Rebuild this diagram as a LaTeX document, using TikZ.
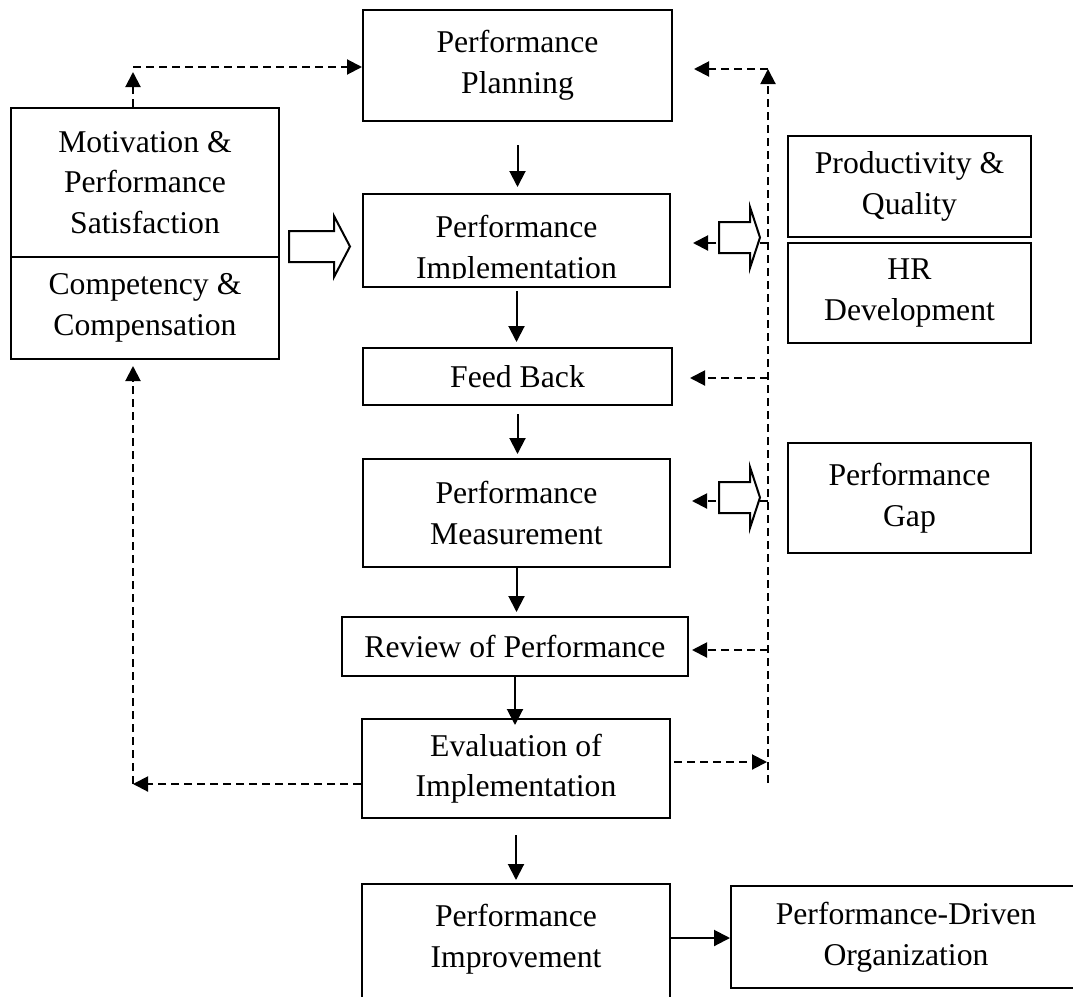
\documentclass[tikz,border=0pt]{standalone}
\usepackage{fontspec}
\setmainfont{Liberation Serif}
\usetikzlibrary{arrows.meta,calc}
\begin{document}
\begin{tikzpicture}[x=1pt,y=-1pt,
  box/.style={draw, line width=2pt, inner sep=0pt, align=center, font=\fontsize{31.7}{40.5}\selectfont},
  txt/.style={inner sep=0pt, align=center, font=\fontsize{31.7}{40.5}\selectfont},
  sarr/.style={line width=2pt, -{Triangle[length=16pt,width=16pt]}},
  darr/.style={line width=2pt, dash pattern=on 8pt off 5pt, -{Triangle[length=15pt,width=15pt]}},
  hollow/.style={draw, line width=2pt, fill=white, line join=miter}]
\clip (0,0) rectangle (1073,996);
% central column
\node[box, minimum width=309pt, minimum height=111pt] (plan) at (517.5,65.5) {Performance\\Planning};
\node[box, minimum width=307pt, minimum height=93pt] (impl) at (516.5,240.5) {};
\begin{scope}
\clip (364,195) rectangle (669,278);
\node[txt] (impltxt) at (516.5,250) {Performance\\Implementation};
\end{scope}
\node[box, minimum width=309pt, minimum height=57pt] (fb) at (517.5,376.5) {Feed Back};
\node[box, minimum width=307pt, minimum height=108pt] (meas) at (516.5,513) {Performance\\Measurement};
\node[box, minimum width=346pt, minimum height=59pt] (rev) at (515,646.5) {Review of Performance};
\node[box, minimum width=308pt, minimum height=99pt] (eval) at (516,768.5) {Evaluation of\\Implementation};
\node[box, minimum width=308pt, minimum height=126pt] (impv) at (516,947) {};
\node[txt] (impvtxt) at (516,939) {Performance\\Improvement};
\node[box, minimum width=350pt, minimum height=102pt] (drv) at (906,937) {Performance-Driven\\Organization};
% left boxes
\node[box, minimum width=268pt, minimum height=149pt] (mot) at (145,182.5) {Motivation \&\\Performance\\Satisfaction};
\node[box, minimum width=268pt, minimum height=102pt] (comp) at (145,308) {Competency \&\\Compensation};
% right boxes
\node[box, minimum width=243pt, minimum height=101pt] (prod) at (909.5,186.5) {Productivity \&\\Quality};
\node[box, minimum width=243pt, minimum height=100pt] (hr) at (909.5,293) {HR\\Development};
\node[box, minimum width=243pt, minimum height=110pt] (gap) at (909.5,498) {Performance\\Gap};
% solid arrows
\draw[sarr, shorten <=23pt, shorten >=6pt] (plan.south) -- (plan.south |- impl.north);
\draw[sarr, shorten <=3pt, shorten >=5pt] (impl.south) -- (impl.south |- fb.north);
\draw[sarr, shorten <=8pt, shorten >=4pt] (fb.south) -- (fb.south |- meas.north);
\draw[sarr, shorten >=4pt] (meas.south) -- (meas.south |- rev.north);
\draw[sarr, shorten >=-7pt] (rev.south) -- (rev.south |- eval.north);
\draw[sarr, shorten <=16pt, shorten >=3pt] (eval.south) -- (eval.south |- impv.north);
\coordinate (d1) at (700,938);
\draw[sarr] (impv.east |- d1) -- (drv.west |- d1);
% dashed feedback
\coordinate (c1) at (133,67);
\draw[darr, shorten >=5pt] (mot.north -| c1) -- (c1);
\draw[darr] (c1) -- (c1 -| plan.west);
\coordinate (rt) at (768,69);
\coordinate (rb) at (768,783);
\draw[darr] (rb) -- (rt);
\draw[darr, shorten >=21pt] (rt) -- (rt -| plan.east);
\coordinate (r2) at (768,243);
\draw[darr, shorten >=22pt] (r2) -- (r2 -| impl.east);
\coordinate (r3) at (768,378);
\draw[darr, shorten >=17pt] (r3) -- (r3 -| fb.east);
\coordinate (r4) at (768,501);
\draw[darr, shorten >=21pt] (r4) -- (r4 -| meas.east);
\coordinate (r5) at (768,650);
\draw[darr, shorten >=3pt] (r5) -- (r5 -| rev.east);
\coordinate (r6) at (767,762);
\draw[darr, shorten <=3pt] (r6 -| eval.east) -- (r6);
\coordinate (c2) at (133,784);
\draw[darr] (eval.west |- c2) -- (c2);
\draw[darr, shorten >=6pt] (c2) -- (c2 |- comp.south);
% hollow block arrows
\draw[hollow] (289,231) -- (334,231) -- (334,216) -- (350,246.5) -- (334,277) -- (334,262) -- (289,262) -- cycle;
\draw[hollow] (719,222) -- (750,222) -- (750,207) -- (760,237.5) -- (750,268) -- (750,253) -- (719,253) -- cycle;
\draw[hollow] (719,482) -- (750,482) -- (750,467) -- (760,497.5) -- (750,528) -- (750,513) -- (719,513) -- cycle;
\end{tikzpicture}
\end{document}
